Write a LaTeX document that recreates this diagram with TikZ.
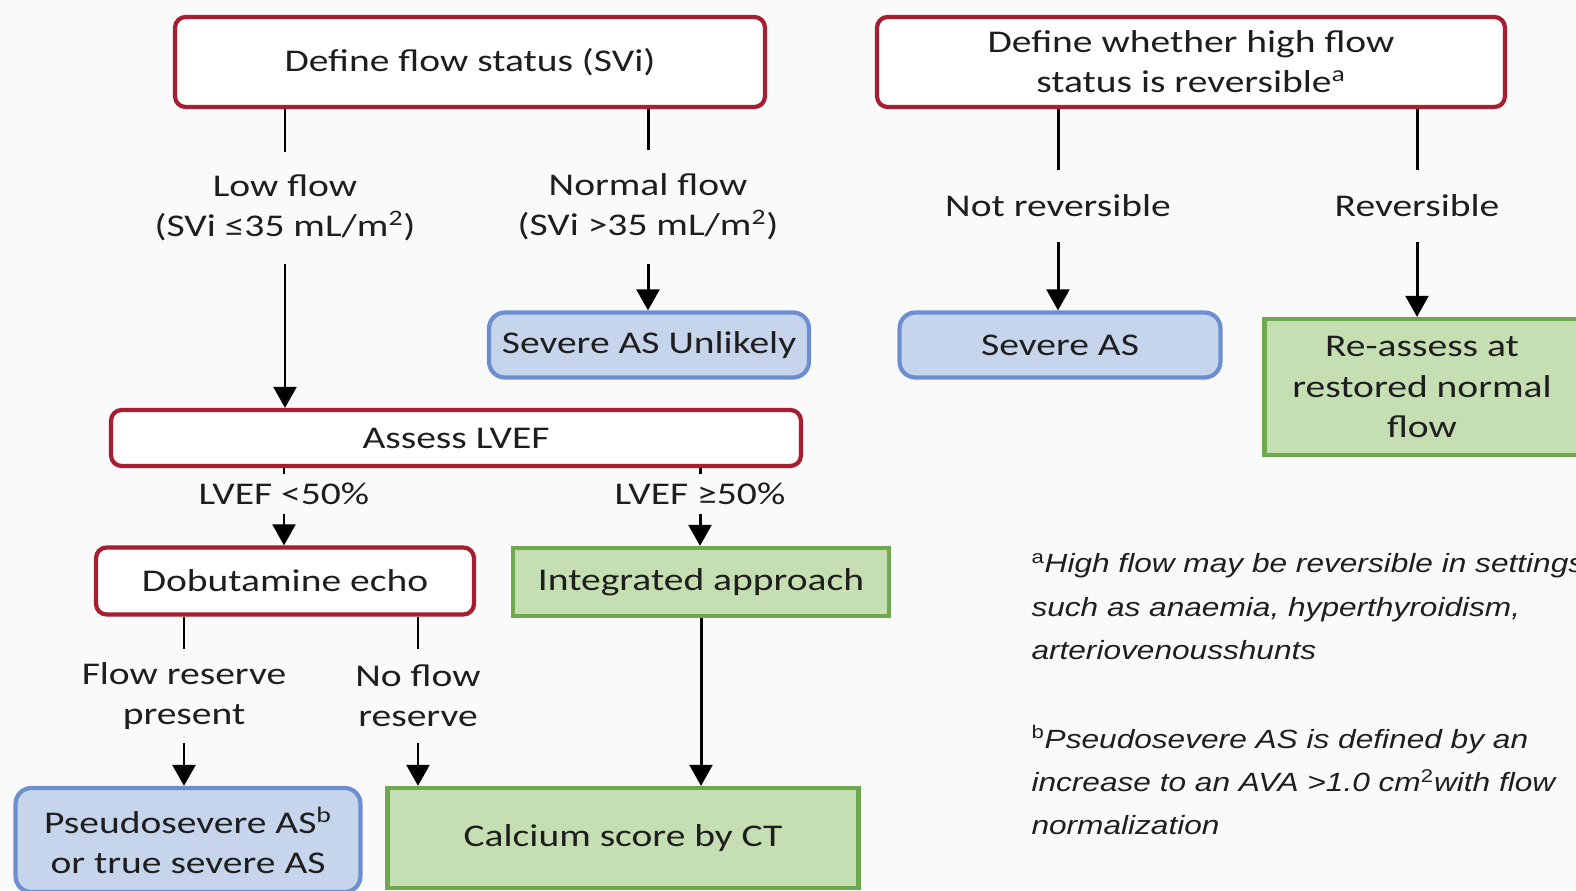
\documentclass[tikz,border=0pt]{standalone}
\usepackage{fontspec}
\setmainfont{Carlito}[FakeStretch=1.25]
\newfontfamily\notefont{Liberation Sans}[FakeStretch=1.2]
\usetikzlibrary{arrows.meta}
\definecolor{boxred}{HTML}{A51E32}
\definecolor{blueline}{HTML}{6E8FCF}
\definecolor{bluefill}{HTML}{C6D4EC}
\definecolor{greenline}{HTML}{6FA84E}
\definecolor{greenfill}{HTML}{C5DFB2}
\definecolor{inktext}{HTML}{1E1E1E}
\tikzset{
  redbox/.style={draw=boxred,line width=2.4pt,fill=white,rounded corners=6pt,
    align=center,inner sep=0pt,text=inktext},
  bluebox/.style={draw=blueline,line width=2.4pt,fill=bluefill,rounded corners=9pt,
    align=center,inner sep=0pt,text=inktext},
  greenbox/.style={draw=greenline,line width=2.4pt,fill=greenfill,
    align=center,inner sep=0pt,text=inktext},
  lbl/.style={align=center,inner sep=0pt,text=inktext,minimum width=1cm},
  note/.style={align=left,inner sep=0pt,text=inktext,font=\notefont\itshape\fontsize{15}{24.7}\selectfont}
}
\begin{document}
\begin{tikzpicture}[x=0.02cm,y=-0.02cm,>={Triangle[width=13pt,length=12pt]},
  line width=1.7pt,font=\fontsize{18}{22.8}\selectfont]
\useasboundingbox (0,0) rectangle (1576,890);
\path[clip] (0,0) rectangle (1576,890);
\fill[gray!4] (0,0) rectangle (1576,890);

% left tree
\node[redbox,minimum width=11.8cm,minimum height=1.8cm] (flow) at (470,62) {Define flow status (SVi)};
\node[lbl,minimum height=2.2cm] (low) at (285,208) {Low flow\\(SVi ≤35 mL/m\textsuperscript{2})};
\node[lbl,minimum height=2.24cm] (normal) at (648,207) {Normal flow\\(SVi >35 mL/m\textsuperscript{2})};
\node[bluebox,minimum width=6.4cm,minimum height=1.3cm] (unlikely) at (649,345) {Severe AS Unlikely};
\node[redbox,minimum width=13.8cm,minimum height=1.12cm] (assess) at (456,438) {Assess LVEF};
\node[lbl,minimum height=0.74cm] (lt) at (284,494) {LVEF <50\%};
\node[lbl,minimum height=0.74cm] (ge) at (700,494) {LVEF ≥50\%};
\node[redbox,minimum width=7.56cm,minimum height=1.34cm] (dobut) at (285,581) {Dobutamine echo};
\node[greenbox,minimum width=7.52cm,minimum height=1.36cm] (integ) at (701,582) {Integrated approach};
\node[lbl,minimum height=1.82cm] (reserve) at (184,696) {Flow reserve\\present};
\node[lbl,minimum height=1.82cm] (noreserve) at (418,696) {No flow\\reserve};
\node[bluebox,minimum width=6.9cm,minimum height=2.08cm] (pseudo) at (188,840) {Pseudosevere AS\textsuperscript{b}\\or true severe AS};
\node[greenbox,minimum width=9.42cm,minimum height=2.0cm] (calcium) at (623,838) {Calcium score by CT};

% right tree
\node[redbox,minimum width=12.56cm,minimum height=1.8cm] (high) at (1191,62) {Define whether high flow\\status is reversible\textsuperscript{a}};
\node[lbl,minimum height=1.4cm] (notrev) at (1058,206) {Not reversible};
\node[lbl,minimum height=1.4cm] (rev) at (1417,206) {Reversible};
\node[bluebox,minimum width=6.42cm,minimum height=1.3cm] (severe) at (1060,345) {Severe AS};
\node[greenbox,minimum width=6.3cm,minimum height=2.72cm] (reassess) at (1422,387) {Re-assess at\\restored normal\\flow};

\draw (flow.south -| low) -- (low);
\draw[->] (low) -- (assess.north -| low);
\draw (flow.south -| normal) -- (normal);
\draw[->] (normal) -- (unlikely.north -| normal);
\draw (assess.south -| lt) -- (lt);
\draw[->] (lt) -- (dobut.north -| lt);
\draw (assess.south -| ge) -- (ge);
\draw[->] (ge) -- (integ.north -| ge);
\draw (dobut.south -| reserve) -- (reserve);
\draw[->] (reserve) -- (pseudo.north -| reserve);
\draw (dobut.south -| noreserve) -- (noreserve);
\draw[->] (noreserve) -- (calcium.north -| noreserve);
\draw[->] (integ) -- (calcium.north -| integ);
\draw (high.south -| notrev) -- (notrev);
\draw[->] (notrev) -- (severe.north -| notrev);
\draw (high.south -| rev) -- (rev);
\draw[->] (rev) -- (reassess.north -| rev);

% footnotes
\node[note,anchor=north west] (fna) at (1030,552) {\textsuperscript{\upshape a}High flow may be reversible in settings\\such as anaemia, hyperthyroidism,\\arteriovenousshunts};
\node[note,anchor=north west] (fnb) at (1030,724) {\textsuperscript{\upshape b}Pseudosevere AS is defined by an\\increase to an AVA >1.0 cm\textsuperscript{\upshape 2}with flow\\normalization};
\end{tikzpicture}
\end{document}
